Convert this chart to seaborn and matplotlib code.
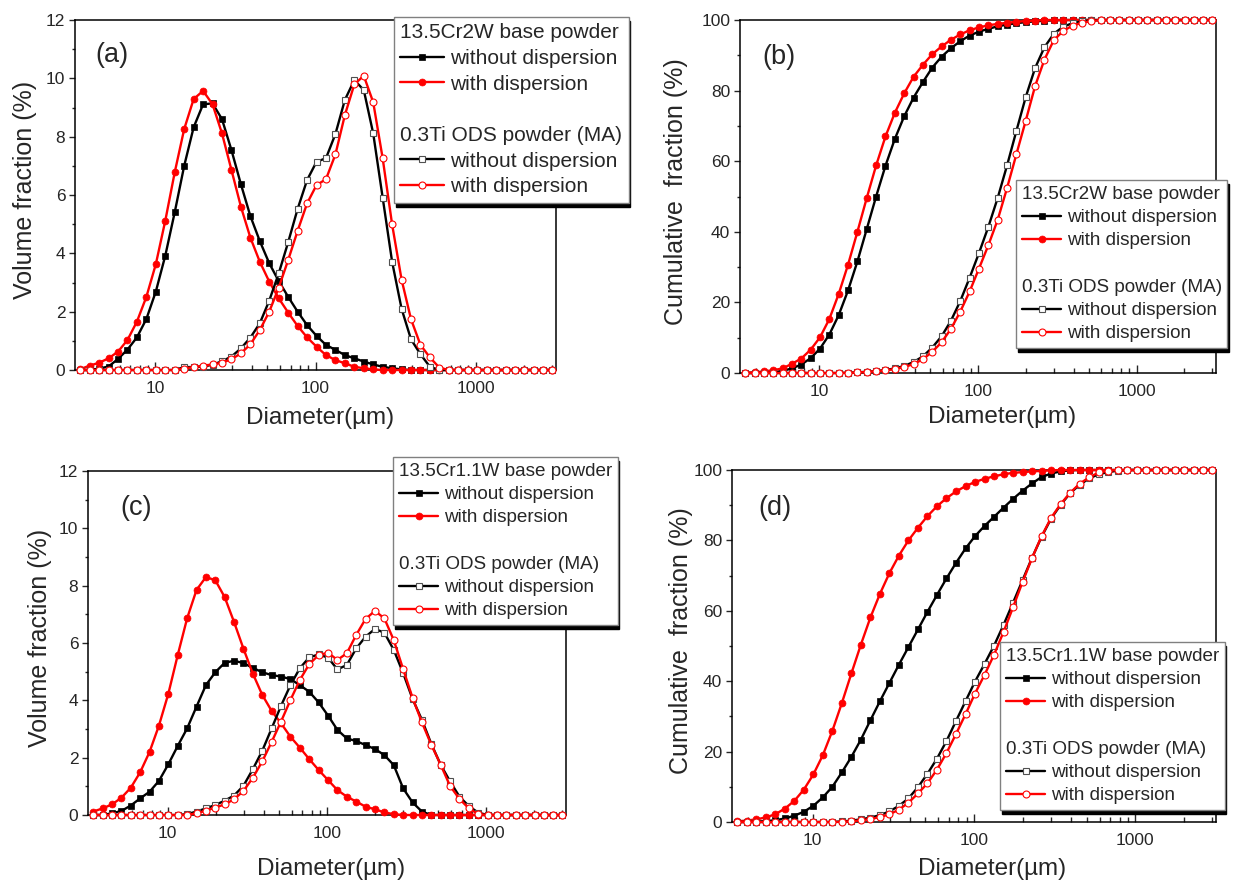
import numpy as np
import pandas as pd
import seaborn as sns
import matplotlib.pyplot as plt
from matplotlib.lines import Line2D
from matplotlib.ticker import FixedLocator, LogLocator, MultipleLocator, NullFormatter, FuncFormatter

# particle size bins (um)
diameter = [3.409, 3.905, 4.472, 5.122, 5.867, 6.720, 7.697, 8.816, 10.097, 11.565,
            13.246, 15.172, 17.377, 19.904, 22.797, 26.111, 29.907, 34.255, 39.234, 44.938,
            51.471, 58.953, 67.523, 77.339, 88.583, 101.460, 116.210, 133.103, 152.453, 174.616,
            200.000, 229.075, 262.376, 300.518, 344.206, 394.244, 451.556, 517.200, 592.387, 678.504,
            777.141, 890.116, 1019.515, 1167.725, 1337.481, 1531.914, 1754.613, 2009.687, 2301.841, 2636.467,
            3000.000]

# (a) volume fraction, 13.5Cr2W / 0.3Ti ODS
a_base_wo = [0, 0, 0.05, 0.12, 0.38, 0.70, 1.12, 1.75, 2.69, 3.92,
             5.41, 7.00, 8.32, 9.11, 9.14, 8.60, 7.54, 6.37, 5.28, 4.42,
             3.66, 3.05, 2.51, 2.00, 1.54, 1.17, 0.86, 0.69, 0.51, 0.40,
             0.29, 0.19, 0.11, 0.06, 0.02] + [0] * 16
a_base_w = [0.03, 0.15, 0.25, 0.40, 0.63, 1.03, 1.66, 2.51, 3.63, 5.12,
            6.78, 8.26, 9.29, 9.57, 9.11, 8.11, 6.86, 5.60, 4.54, 3.71,
            3.03, 2.46, 1.97, 1.51, 1.12, 0.80, 0.51, 0.34, 0.23, 0.11,
            0.06, 0.02] + [0] * 19
a_ods_wo = [0] * 11 + [0.10, 0.10, 0.12, 0.18, 0.30, 0.46, 0.74, 1.11, 1.60,
                       2.38, 3.31, 4.38, 5.52, 6.51, 7.14, 7.26, 8.09, 9.26, 9.94,
                       9.60, 8.11, 5.91, 3.71, 2.10, 1.05, 0.54, 0.11] + [0] * 13
a_ods_w = [0] * 11 + [0.05, 0.10, 0.15, 0.19, 0.25, 0.37, 0.57, 0.88, 1.37,
                      2.00, 2.82, 3.77, 4.77, 5.71, 6.34, 6.54, 7.39, 8.74, 9.79,
                      10.09, 9.18, 7.26, 4.99, 3.10, 1.74, 0.86, 0.43, 0.08] + [0] * 12

# (b) cumulative fraction
b_base_wo = [0, 0, 0.1, 0.2, 0.6, 1.3, 2.4, 4.2, 6.9, 10.9,
             16.4, 23.4, 31.6, 40.8, 50.0, 58.7, 66.3, 72.7, 78.0, 82.4,
             86.5, 89.6, 92.0, 94.0, 95.6, 96.7, 97.5, 98.2, 98.7, 99.1,
             99.4, 99.6, 99.8, 99.9] + [100] * 17
b_base_w = [0.05, 0.2, 0.45, 0.8, 1.3, 2.6, 4.1, 6.6, 10.1, 15.3,
            22.4, 30.7, 40.0, 49.6, 58.8, 67.0, 73.7, 79.2, 83.9, 87.3,
            90.3, 92.5, 94.4, 95.9, 97.1, 97.9, 98.5, 98.9, 99.2, 99.5,
            99.7, 99.85] + [100] * 19
b_ods_wo = [0] * 11 + [0.1, 0.2, 0.35, 0.55, 0.85, 1.3, 2.0, 3.1, 4.7,
                       7.2, 10.4, 14.8, 20.4, 27.0, 34.0, 41.4, 49.6, 58.8, 68.6,
                       78.2, 86.4, 92.3, 96.1, 98.1, 99.1, 99.6, 99.9] + [100] * 13
b_ods_w = [0] * 11 + [0.05, 0.15, 0.3, 0.5, 0.75, 1.1, 1.7, 2.5, 3.9,
                      6.0, 8.7, 12.5, 17.4, 23.1, 29.6, 36.2, 43.4, 52.4, 62.0,
                      71.5, 81.3, 88.8, 94.3, 96.9, 98.4, 99.2, 99.7] + [100] * 13

# (c) volume fraction, 13.5Cr1.1W / 0.3Ti ODS
c_base_wo = [0, 0, 0.06, 0.14, 0.33, 0.58, 0.81, 1.19, 1.77, 2.41,
             3.02, 3.78, 4.53, 4.98, 5.31, 5.38, 5.30, 5.13, 4.98, 4.88,
             4.83, 4.74, 4.53, 4.30, 3.93, 3.47, 2.97, 2.67, 2.58, 2.44,
             2.30, 2.09, 1.74, 0.93, 0.44, 0.12] + [0] * 15
c_base_w = [0.12, 0.23, 0.37, 0.60, 0.95, 1.49, 2.20, 3.12, 4.23, 5.58,
            6.86, 7.85, 8.30, 8.19, 7.60, 6.73, 5.80, 4.93, 4.19, 3.63,
            3.20, 2.73, 2.35, 1.95, 1.57, 1.22, 0.87, 0.64, 0.47, 0.29,
            0.20, 0.09, 0.03] + [0] * 18
c_ods_wo = [0] * 10 + [0.03, 0.12, 0.23, 0.35, 0.50, 0.68, 1.02, 1.60, 2.24, 3.02,
                       3.81, 4.53, 5.12, 5.50, 5.60, 5.49, 5.08, 5.23, 5.81, 6.22,
                       6.49, 6.36, 5.76, 4.95, 4.05, 3.32, 2.48, 1.75, 1.17, 0.64,
                       0.31, 0.08] + [0] * 9
c_ods_w = [0] * 11 + [0.06, 0.15, 0.26, 0.37, 0.55, 0.84, 1.30, 1.87, 2.55,
                      3.26, 4.01, 4.71, 5.26, 5.58, 5.66, 5.41, 5.64, 6.28, 6.84,
                      7.12, 6.86, 6.10, 5.09, 4.09, 3.23, 2.45, 1.75, 1.01, 0.56,
                      0.23, 0.03] + [0] * 9

# (d) cumulative fraction
d_base_wo = [0, 0, 0.1, 0.25, 0.5, 1.0, 1.8, 2.9, 4.6, 7.0,
             10.0, 14.1, 18.5, 23.4, 28.9, 34.3, 39.5, 44.7, 49.7, 54.7,
             59.7, 64.5, 69.2, 73.6, 77.7, 81.2, 84.1, 86.7, 89.3, 91.8,
             94.1, 96.2, 98.0, 99.0, 99.6, 99.9] + [100] * 15
d_base_w = [0.2, 0.4, 0.75, 1.3, 2.2, 3.8, 6.0, 9.2, 13.5, 19.0,
            25.9, 33.8, 42.2, 50.4, 58.1, 64.8, 70.7, 75.7, 80.0, 83.6,
            86.9, 89.7, 92.0, 93.9, 95.4, 96.6, 97.5, 98.2, 98.8, 99.2,
            99.4, 99.6, 99.75, 99.9] + [100] * 17
d_ods_wo = [0] * 10 + [0.03, 0.15, 0.4, 0.75, 1.25, 1.95, 3.0, 4.6, 6.7, 9.9,
                       13.7, 18.0, 23.0, 28.7, 34.3, 39.9, 44.9, 50.1, 56.0, 62.3,
                       68.7, 75.1, 81.0, 86.2, 90.1, 93.4, 95.8, 97.6, 98.8, 99.4,
                       99.8] + [100] * 10
d_ods_w = [0] * 11 + [0.05, 0.2, 0.45, 0.85, 1.4, 2.2, 3.5, 5.5, 8.1,
                      11.0, 14.9, 19.6, 25.0, 30.6, 36.5, 41.8, 47.5, 54.0, 61.0,
                      68.2, 75.0, 81.2, 86.4, 90.3, 93.5, 96.1, 97.9, 99.3, 99.8] + [100] * 11

styles = [
    dict(color='black', marker='s', markersize=4.3, markerfacecolor='black', markeredgecolor='black', markeredgewidth=0.5),
    dict(color='red', marker='o', markersize=5.0, markerfacecolor='red', markeredgecolor='red', markeredgewidth=0.5),
    dict(color='black', marker='s', markersize=4.3, markerfacecolor='white', markeredgecolor='#505050', markeredgewidth=0.8),
    dict(color='red', marker='o', markersize=5.0, markerfacecolor='white', markeredgecolor='red', markeredgewidth=0.8),
]


def draw_panel(fig, rect, series, cumulative, tag, tag_xy, base_name, leg_xy, leg_fs,
               ylab_x, xlab_xy):
    ax = fig.add_axes(rect)
    lines = []
    for vals, st in zip(series, styles):
        df = pd.DataFrame({'d': diameter, 'v': vals})
        sns.lineplot(data=df, x='d', y='v', ax=ax, linewidth=1.7, errorbar=None,
                     clip_on=False, zorder=3, **st)
        lines.append(ax.get_lines()[-1])

    ax.set_xscale('log')
    ax.set_xlim(10 ** 0.5, 10 ** 3.5)
    ax.xaxis.set_major_locator(FixedLocator([10, 100, 1000]))
    ax.xaxis.set_major_formatter(FuncFormatter(lambda v, p: f'{v:g}'))
    ax.xaxis.set_minor_locator(LogLocator(base=10, subs=np.arange(2, 10), numticks=20))
    ax.xaxis.set_minor_formatter(NullFormatter())
    if cumulative:
        ax.set_ylim(0, 100)
        ax.yaxis.set_major_locator(MultipleLocator(20))
        ax.yaxis.set_minor_locator(MultipleLocator(10))
        ylabel = 'Cumulative  fraction (%)'
    else:
        ax.set_ylim(0, 12)
        ax.yaxis.set_major_locator(MultipleLocator(2))
        ax.yaxis.set_minor_locator(MultipleLocator(1))
        ylabel = 'Volume fraction (%)'

    ax.tick_params(axis='x', which='both', direction='in', top=False, labelsize=12.5, pad=8, width=1)
    ax.tick_params(axis='x', which='major', length=6)
    ax.tick_params(axis='x', which='minor', length=3.5)
    ax.tick_params(axis='y', which='both', direction='out', right=False, labelsize=12.5, pad=3, width=1)
    ax.tick_params(axis='y', which='major', length=4)
    ax.tick_params(axis='y', which='minor', length=2.5)
    for sp in ax.spines.values():
        sp.set_visible(True)
        sp.set_linewidth(1.1)
        sp.set_color('black')

    ax.set_ylabel(ylabel, fontsize=18)
    ax.yaxis.set_label_coords(ylab_x, 0.515)
    ax.set_xlabel('Diameter(\u00b5m)', fontsize=17.5)
    ax.xaxis.set_label_coords(*xlab_xy)

    fig.text(tag_xy[0], tag_xy[1], tag, fontsize=19.5, ha='center', va='center')

    blank = Line2D([], [], linestyle='none')
    headers = [base_name, '0.3Ti ODS powder (MA)', ' ']
    handles = [blank, lines[0], lines[1], blank, blank, lines[2], lines[3]]
    labels = [base_name, 'without dispersion', 'with dispersion', ' ',
              '0.3Ti ODS powder (MA)', 'without dispersion', 'with dispersion']
    leg = ax.legend(handles, labels, loc='upper left', bbox_to_anchor=leg_xy,
                    bbox_transform=fig.transFigure, fontsize=leg_fs, frameon=True,
                    fancybox=False, framealpha=1, borderaxespad=0, borderpad=0.3,
                    labelspacing=0.32, handlelength=2.1, handletextpad=0.3,
                    shadow={'color': 'black', 'alpha': 1, 'ox': 1.2, 'oy': -3.0})
    leg.get_frame().set_edgecolor('#808080')
    leg.get_frame().set_linewidth(1.0)
    leg.set_zorder(10)
    # headers start at the left edge, without handle space
    for col in leg._legend_handle_box.get_children():
        for row in col.get_children():
            da, ta = row.get_children()
            if ta.get_text() in headers:
                da.width = 0
                row.sep = 0
    return ax


sns.set_style('ticks')
plt.rcParams['font.family'] = ['Liberation Sans', 'DejaVu Sans']

fig = plt.figure(figsize=(12.34, 8.82), dpi=100)

W, H = 1234, 882


def rect(x0, x1, y0, y1):
    return [x0 / W, 1 - y1 / H, (x1 - x0) / W, (y1 - y0) / H]


draw_panel(fig, rect(75, 556, 20, 370), [a_base_wo, a_base_w, a_ods_wo, a_ods_w], False,
           '(a)', (112 / W, 1 - 55 / H), '13.5Cr2W base powder', (394 / W, 1 - 17 / H), 15,
           -0.078, (0.51, -0.105))
draw_panel(fig, rect(740, 1216, 20, 373), [b_base_wo, b_base_w, b_ods_wo, b_ods_w], True,
           '(b)', (779 / W, 1 - 57 / H), '13.5Cr2W base powder', (1016 / W, 1 - 180 / H), 13.6,
           -0.11, (0.55, -0.094))
draw_panel(fig, rect(88, 566, 471, 815), [c_base_wo, c_base_w, c_ods_wo, c_ods_w], False,
           '(c)', (136 / W, 1 - 508 / H), '13.5Cr1.1W base powder', (393 / W, 1 - 457 / H), 13.6,
           -0.075, (0.508, -0.125))
draw_panel(fig, rect(732, 1216, 470, 822), [d_base_wo, d_base_w, d_ods_wo, d_ods_w], True,
           '(d)', (775 / W, 1 - 508 / H), '13.5Cr1.1W base powder', (1000 / W, 1 - 642 / H), 13.6,
           -0.081, (0.537, -0.102))

fig.savefig('out.png', dpi=100)
